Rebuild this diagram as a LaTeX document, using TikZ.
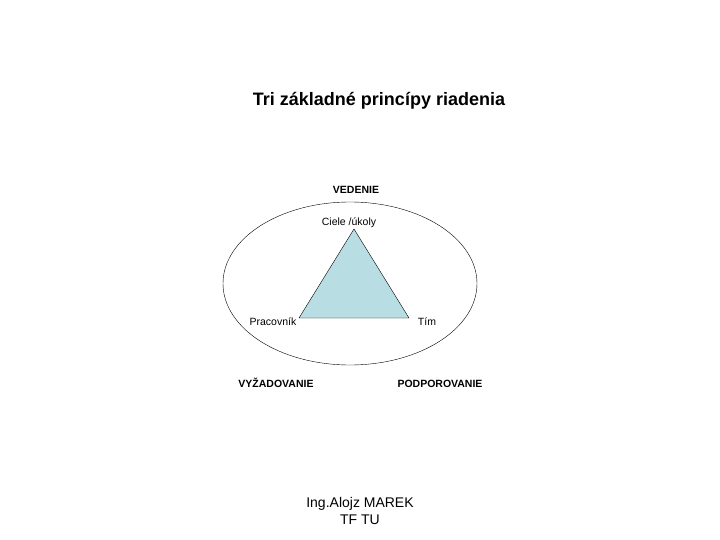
\documentclass[tikz,border=0pt]{standalone}
\usepackage{fontspec}
\setmainfont{Liberation Sans}
\usetikzlibrary{positioning}

\begin{document}
\begin{tikzpicture}[x=1pt,y=-1pt,
    lab/.style={font=\fontsize{10.5}{12}\selectfont,inner sep=1pt,text height=1.6ex,text depth=.3ex},
    corner/.style={font=\fontsize{10.5}{12}\selectfont\bfseries,inner sep=1pt,text height=1.6ex,text depth=.3ex}]
\useasboundingbox (0,0) rectangle (720,540);

\node[font=\fontsize{18}{20}\selectfont\bfseries] (title) at (379,101) {Tri základné princípy riadenia};

\draw[thin] (350,283.5) ellipse (127 and 81.5);

\coordinate (top) at (354,229);
\coordinate (bl) at (299,318);
\coordinate (br) at (409,318);
\draw[fill={rgb,255:red,184;green,222;blue,228}] (top)--(br)--(bl)--cycle;

\node[corner] (ved) at (356,190) {VEDENIE};
\node[lab] (ciele) at (349,222) {Ciele /úkoly};
\node[lab] (prac) at (273,322) {Pracovník};
\node[lab] (tim) at (427,322) {Tím};
\node[corner] (vyz) at (276,384) {VYŽADOVANIE};
\node[corner] (podp) at (440,384) {PODPOROVANIE};

\node[font=\fontsize{14}{17}\selectfont,align=center] (autor) at (360,511) {Ing.Alojz MAREK\\TF TU};

\end{tikzpicture}
\end{document}
